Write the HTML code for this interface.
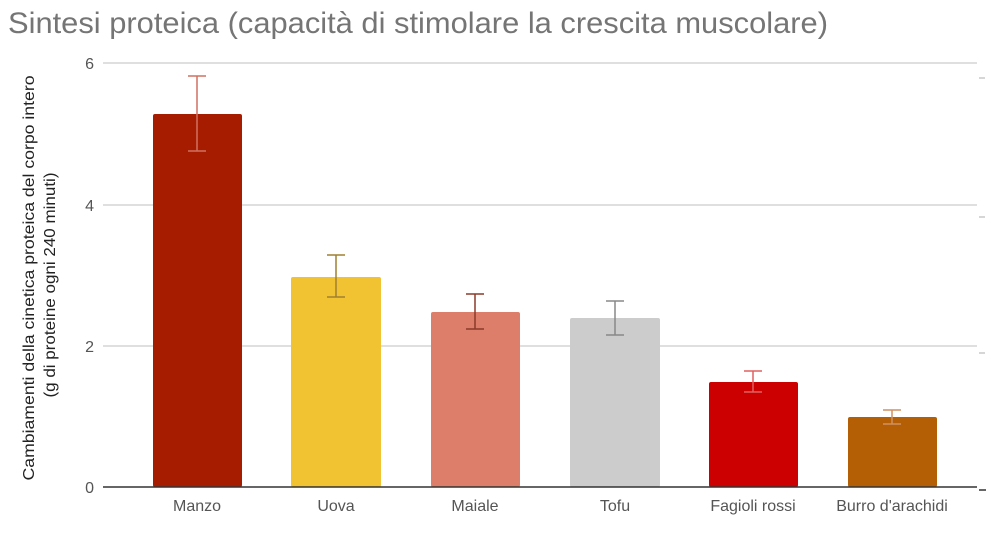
<!DOCTYPE html>
<html><head><meta charset="utf-8"><style>
body{margin:0;background:#fff;}
svg text{font-family:"Liberation Sans",sans-serif;}
</style></head><body>
<svg width="1000" height="533" xmlns="http://www.w3.org/2000/svg">
<text x="8" y="33" font-size="30" fill="#757575" textLength="820" lengthAdjust="spacingAndGlyphs">Sintesi proteica (capacità di stimolare la crescita muscolare)</text>
<g stroke="#cccccc" stroke-width="1.3">
<line x1="103" y1="63" x2="977" y2="63"/>
<line x1="103" y1="205" x2="977" y2="205"/>
<line x1="103" y1="346" x2="977" y2="346"/>
</g>
<g stroke="#bbb" stroke-width="1.2">
<line x1="979" y1="78" x2="985" y2="78"/>
<line x1="979" y1="217" x2="985" y2="217"/>
<line x1="979" y1="353" x2="985" y2="353"/>
</g>
<g font-size="16" fill="#555" text-anchor="end">
<text x="94" y="69">6</text>
<text x="94" y="211">4</text>
<text x="94" y="352">2</text>
<text x="94" y="493">0</text>
</g>
<text transform="translate(34,278) rotate(-90)" font-size="16" fill="#222" text-anchor="middle" textLength="405" lengthAdjust="spacingAndGlyphs">Cambiamenti della cinetica proteica del corpo intero</text>
<text transform="translate(55,285) rotate(-90)" font-size="16" fill="#222" text-anchor="middle" textLength="225" lengthAdjust="spacingAndGlyphs">(g di proteine ogni 240 minuti)</text>
<rect x="153" y="114" width="89" height="373" rx="2" fill="#a61c00"/>
<rect x="291" y="277" width="90" height="210" rx="2" fill="#f1c232"/>
<rect x="431" y="312" width="89" height="175" rx="2" fill="#dd7e6b"/>
<rect x="570" y="318" width="90" height="169" rx="2" fill="#cccccc"/>
<rect x="709" y="382" width="89" height="105" rx="2" fill="#cc0000"/>
<rect x="848" y="417" width="89" height="70" rx="2" fill="#b45f06"/>
<g stroke-width="1.5" fill="none">
<path d="M197 76V151M188 76H206M188 151H206" stroke="#d07060"/>
<path d="M336 255V297M327 255H345M327 297H345" stroke="#a08030"/>
<path d="M475 294V329M466 294H484M466 329H484" stroke="#8b3a2a"/>
<path d="M615 301V335M606 301H624M606 335H624" stroke="#888"/>
<path d="M753 371V392M744 371H762M744 392H762" stroke="#e06060"/>
<path d="M892 410V424M883 410H901M883 424H901" stroke="#d09060"/>
</g>
<line x1="103" y1="487" x2="977" y2="487" stroke="#333" stroke-width="1.5"/>
<line x1="979" y1="490" x2="986" y2="490" stroke="#333" stroke-width="1.5"/>
<g font-size="16" fill="#555" text-anchor="middle">
<text x="197" y="511">Manzo</text>
<text x="336" y="511">Uova</text>
<text x="475" y="511">Maiale</text>
<text x="615" y="511">Tofu</text>
<text x="753" y="511">Fagioli rossi</text>
<text x="892" y="511">Burro d'arachidi</text>
</g>
</svg>
</body></html>
